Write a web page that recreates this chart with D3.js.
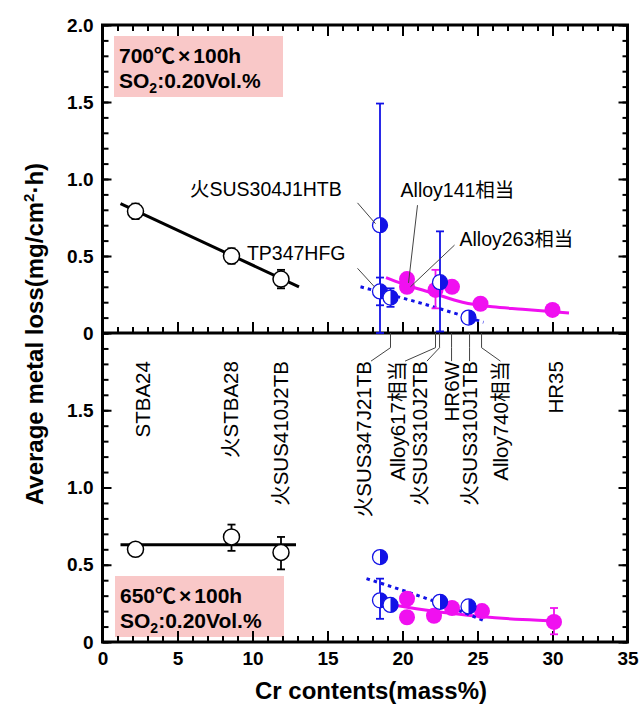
<!DOCTYPE html>
<html lang="ja">
<head>
<meta charset="UTF-8">
<title>Average metal loss vs Cr contents</title>
<script src="https://d3js.org/d3.v7.min.js"></script>
<style>
  body { margin: 0; background: #fff; }
  svg { font-family: "Liberation Sans", Arial, "Noto Sans CJK JP", sans-serif; }
  .frame { fill: none; stroke: #000; stroke-width: 3; }
  .axis line { stroke: #000; stroke-width: 2; }
  .axis text { font-family: "Liberation Sans", Arial, sans-serif; font-size: 19px; font-weight: bold; fill: #000; }
  .axis-title { font-size: 24px; font-weight: bold; }
  .note { font-size: 19.5px; }
  .grade { font-size: 20.5px; }
  .leader { stroke: #444; stroke-width: 1; fill: none; }
  .cond-box { fill: #f9c8c8; }
  .cond-text { font-size: 21px; font-weight: bold; }
</style>
</head>
<body>
<script>
// ---- data ----
// ferritic steels, open black circles
const crFerritic = [2.2, 8.6, 11.9]
const loss700Ferritic = [0.79, 0.50, 0.35]
const lo700Ferritic = [0.74, 0.45, 0.29]
const hi700Ferritic = [0.84, 0.55, 0.41]
const loss650Ferritic = [0.60, 0.68, 0.58]
const lo650Ferritic = [null, 0.59, 0.47]
const hi650Ferritic = [null, 0.76, 0.68]
const fit700FerriticCr = [1.2, 13.1], fit700FerriticLoss = [0.84, 0.30]
const fit650FerriticCr = [1.2, 12.9], fit650FerriticLoss = [0.63, 0.63]

// austenitic stainless steels, half filled blue circles
const crStainless = [18.5, 18.5, 19.2, 22.5, 24.4]
const loss700Stainless = [0.70, 0.27, 0.23, 0.33, 0.10]
const lo700Stainless = [0.00, 0.18, 0.17, 0.01, null]
const hi700Stainless = [1.49, 0.36, 0.29, 0.66, null]
const loss650Stainless = [0.55, 0.27, 0.24, 0.26, 0.23]
const lo650Stainless = [null, 0.15, null, null, null]
const hi650Stainless = [null, 0.41, null, null, null]
const fit700StainlessCr = [17.2, 21.0, 25.4], fit700StainlessLoss = [0.30, 0.20, 0.07]
const fit650StainlessCr = [17.6, 22.5, 25.4], fit650StainlessLoss = [0.41, 0.25, 0.14]

// Ni base alloys / high alloys, filled magenta circles
const crNi700 = [20.3, 20.3, 22.2, 23.3, 25.2, 30.0]
const loss700Ni = [0.35, 0.30, 0.28, 0.30, 0.19, 0.15]
const lo700Ni = [null, null, 0.16, null, null, null]
const hi700Ni = [null, null, 0.41, null, null, null]
const crNi650 = [20.3, 20.3, 22.1, 23.3, 25.3, 30.1]
const loss650Ni = [0.28, 0.16, 0.17, 0.22, 0.20, 0.13]
const lo650Ni = [null, null, null, null, null, 0.05]
const hi650Ni = [null, null, null, null, null, 0.22]
const fit700NiCr = [18.9, 20, 22, 24, 26, 28, 31.1]
const fit700NiLoss = [0.36, 0.32, 0.26, 0.20, 0.17, 0.155, 0.13]
const fit650NiCr = [19.4, 22, 25.2, 28, 30.5]
const fit650NiLoss = [0.24, 0.20, 0.165, 0.145, 0.135]

// tick values
const xMinor = d3.range(0, 36, 1)
const xMajor = d3.range(0, 36, 5)
const yMinor = d3.range(0, 21).map(i => i / 10)
const yMajorTop = [0, 0.5, 1, 1.5, 2]
const yMajorBot = [0, 0.5, 1, 1.5]

// steel grade names written in the lower panel
const gradeNames = ["STBA24", "火STBA28", "火SUS410J2TB", "火SUS347J21TB", "Alloy617相当",
                    "火SUS310J2TB", "HR6W", "火SUS310J1TB", "Alloy740相当", "HR35"]
const gradeCr = [null, null, null, 19.2, 22.2, 22.47, 23.27, 24.47, 25.27, null]
const notes700 = ["火SUS304J1HTB", "TP347HFG", "Alloy141相当", "Alloy263相当"]

// ---- layout ----
const width = 641, height = 709
const x = d3.scaleLinear().domain([0, 35]).range([102.5, 627.5])
const yTop = d3.scaleLinear().domain([0, 2]).range([333, 25])
const yBot = d3.scaleLinear().domain([0, 2]).range([642, 333])

const blue = "#1212e6", magenta = "#f010f0"

const svg = d3.select("body").append("svg")
    .attr("width", width)
    .attr("height", height)

// condition boxes (behind everything)
function condBox(bx, by, temp) {
  svg.append("rect").attr("class", "cond-box")
      .attr("x", bx).attr("y", by).attr("width", 169).attr("height", 61)
  const t1 = svg.append("text").attr("class", "cond-text").attr("x", bx + 5).attr("y", by + 27)
  t1.append("tspan").text(temp + "℃")
  t1.append("tspan").attr("dx", 3).text("×")
  t1.append("tspan").attr("dx", 3).text("100h")
  const t2 = svg.append("text").attr("class", "cond-text").attr("x", bx + 5).attr("y", by + 52)
  t2.append("tspan").text("SO")
  t2.append("tspan").attr("font-size", 14).attr("dy", 5).text("2")
  t2.append("tspan").attr("dy", -5).text(":0.20Vol.%")
}
condBox(114, 36, 700)
condBox(115, 576, 650)

// axes
function addAxis(axis, tx, ty) {
  const g = svg.append("g").attr("class", "axis")
      .attr("transform", `translate(${tx},${ty})`)
      .call(axis)
  g.select(".domain").remove()
  return g
}
const fmtY = d => d === 0 ? "0" : d3.format(".1f")(d)

// horizontal axes: top edge, middle line, bottom line
addAxis(d3.axisTop(x).tickValues(xMinor).tickSize(-6).tickFormat(""), 0, yTop(2))
addAxis(d3.axisTop(x).tickValues(xMajor).tickSize(-11).tickFormat(""), 0, yTop(2))
addAxis(d3.axisBottom(x).tickValues(xMinor).tickSize(-6).tickFormat(""), 0, yTop(0))
addAxis(d3.axisBottom(x).tickValues(xMajor).tickSize(-11).tickFormat(""), 0, yTop(0))
addAxis(d3.axisBottom(x).tickValues(xMinor).tickSize(-6).tickFormat(""), 0, yBot(0))
addAxis(d3.axisBottom(x).tickValues(xMajor).tickSize(-11).tickPadding(10).tickFormat(d3.format("d")), 0, yBot(0))

// vertical axes
for (const ys of [yTop, yBot]) {
  addAxis(d3.axisLeft(ys).tickValues(yMinor).tickSize(-6).tickFormat(""), x(0), 0)
  addAxis(d3.axisRight(ys).tickValues(yMinor).tickSize(-5).tickFormat(""), x(35), 0)
  addAxis(d3.axisRight(ys).tickValues(yMajorTop).tickSize(-9).tickFormat(""), x(35), 0)
}
addAxis(d3.axisLeft(yTop).tickValues(yMajorTop).tickSize(-9).tickPadding(9).tickFormat(fmtY), x(0), 0)
addAxis(d3.axisLeft(yBot).tickValues(yMajorBot).tickSize(-9).tickPadding(9).tickFormat(fmtY), x(0), 0)

svg.append("rect").attr("class", "frame")
    .attr("x", x(0)).attr("y", yTop(2))
    .attr("width", x(35) - x(0)).attr("height", yBot(0) - yTop(2))
svg.append("line").attr("class", "frame")
    .attr("x1", x(0)).attr("x2", x(35)).attr("y1", yTop(0)).attr("y2", yTop(0))

// ---- marks ----
function fitLine(ys, crs, losses, color, dotted, curve) {
  svg.append("path")
      .datum(d3.zip(crs, losses))
      .attr("fill", "none")
      .attr("stroke", color)
      .attr("stroke-width", 3)
      .attr("stroke-dasharray", dotted ? "3.5,4" : null)
      .attr("d", d3.line().x(d => x(d[0])).y(d => ys(d[1])).curve(curve || d3.curveLinear))
}

function errorBars(ys, crs, lo, hi, color) {
  const rows = d3.zip(crs, lo, hi).filter(d => d[1] != null)
  const g = svg.append("g").attr("stroke", color).attr("stroke-width", 1.8)
  g.selectAll("line.v").data(rows).join("line").attr("class", "v")
      .attr("x1", d => x(d[0])).attr("x2", d => x(d[0]))
      .attr("y1", d => ys(d[1])).attr("y2", d => ys(d[2]))
  g.selectAll("line.lo").data(rows).join("line").attr("class", "lo")
      .attr("x1", d => x(d[0]) - 4).attr("x2", d => x(d[0]) + 4)
      .attr("y1", d => ys(d[1])).attr("y2", d => ys(d[1]))
  g.selectAll("line.hi").data(rows).join("line").attr("class", "hi")
      .attr("x1", d => x(d[0]) - 4).attr("x2", d => x(d[0]) + 4)
      .attr("y1", d => ys(d[2])).attr("y2", d => ys(d[2]))
}

function openCircles(ys, crs, losses) {
  svg.append("g").selectAll("circle").data(d3.zip(crs, losses)).join("circle")
      .attr("cx", d => x(d[0])).attr("cy", d => ys(d[1])).attr("r", 8)
      .attr("fill", "#fff").attr("stroke", "#000").attr("stroke-width", 1.5)
}

function filledCircles(ys, crs, losses) {
  svg.append("g").selectAll("circle").data(d3.zip(crs, losses)).join("circle")
      .attr("cx", d => x(d[0])).attr("cy", d => ys(d[1])).attr("r", 8)
      .attr("fill", magenta)
}

const halfArc = d3.arc()({innerRadius: 0, outerRadius: 7.5, startAngle: 0, endAngle: Math.PI})
function halfCircles(ys, crs, losses) {
  const g = svg.append("g").selectAll("g").data(d3.zip(crs, losses)).join("g")
      .attr("transform", d => `translate(${x(d[0])},${ys(d[1])})`)
  g.append("circle").attr("r", 7.5).attr("fill", "#fff").attr("stroke", blue).attr("stroke-width", 1.3)
  g.append("path").attr("d", halfArc).attr("fill", blue)
}

// upper panel: 700 C
fitLine(yTop, fit700FerriticCr, fit700FerriticLoss, "#000", false)
fitLine(yTop, fit700NiCr, fit700NiLoss, magenta, false, d3.curveMonotoneX)
fitLine(yTop, fit700StainlessCr, fit700StainlessLoss, blue, true, d3.curveMonotoneX)
errorBars(yTop, crFerritic, lo700Ferritic, hi700Ferritic, "#000")
errorBars(yTop, crNi700, lo700Ni, hi700Ni, magenta)
openCircles(yTop, crFerritic, loss700Ferritic)
filledCircles(yTop, crNi700, loss700Ni)
errorBars(yTop, crStainless, lo700Stainless, hi700Stainless, blue)
halfCircles(yTop, crStainless, loss700Stainless)

// lower panel: 650 C
fitLine(yBot, fit650FerriticCr, fit650FerriticLoss, "#000", false)
fitLine(yBot, fit650NiCr, fit650NiLoss, magenta, false, d3.curveMonotoneX)
fitLine(yBot, fit650StainlessCr, fit650StainlessLoss, blue, true, d3.curveMonotoneX)
errorBars(yBot, crFerritic, lo650Ferritic, hi650Ferritic, "#000")
errorBars(yBot, crNi650, lo650Ni, hi650Ni, magenta)
openCircles(yBot, crFerritic, loss650Ferritic)
filledCircles(yBot, crNi650, loss650Ni)
errorBars(yBot, crStainless, lo650Stainless, hi650Stainless, blue)
halfCircles(yBot, crStainless, loss650Stainless)

// ---- annotations ----
// upper panel callouts: text anchor [cr, loss], anchor side, leader from/to
const noteLayout = [
  {at: [15.95, 0.89], anchor: "end",   from: [17.0, 0.845], to: [18.2, 0.71]},
  {at: [16.2, 0.474], anchor: "end",   from: [17.0, 0.42],  to: [18.13, 0.30]},
  {at: [19.87, 0.883], anchor: "start", from: [21.0, 0.83],  to: [20.4, 0.325]},
  {at: [23.8, 0.565], anchor: "start", from: [23.47, 0.571], to: [20.53, 0.30]}
]
notes700.forEach((t, i) => {
  const L = noteLayout[i]
  svg.append("line").attr("class", "leader")
      .attr("x1", x(L.from[0])).attr("y1", yTop(L.from[1]))
      .attr("x2", x(L.to[0])).attr("y2", yTop(L.to[1]))
  svg.append("text").attr("class", "note")
      .attr("x", x(L.at[0])).attr("y", yTop(L.at[1]))
      .attr("text-anchor", L.anchor)
      .text(t)
})

// lower panel: rotated grade names, with leaders to the axis
const gradeLabelCr = [2.67, 8.53, 11.87, 17.4, 19.67, 21.13, 23.27, 24.47, 26.53, 30.2]
const labelTop = 1.818, bendAt = 1.905
gradeNames.forEach((name, i) => {
  const lx = gradeLabelCr[i]
  if (gradeCr[i] != null) {
    const c = gradeCr[i]
    const pts = [[c, 2.0], [c, bendAt], [lx + (c > lx + 0.5 ? 0.5 : 0), labelTop]]
    svg.append("path").attr("class", "leader")
        .attr("d", d3.line().x(d => x(d[0])).y(d => yBot(d[1]))(pts))
  }
  svg.append("text").attr("class", "grade")
      .attr("transform", `translate(${x(lx)},${yBot(labelTop)}) rotate(-90)`)
      .attr("text-anchor", "end")
      .attr("dy", "0.35em")
      .text(name)
})

// axis titles
const yt = svg.append("text").attr("class", "axis-title")
    .attr("transform", `translate(43,334) rotate(-90)`)
    .attr("text-anchor", "middle")
yt.append("tspan").text("Average metal loss(mg/cm")
yt.append("tspan").attr("font-size", 15).attr("dy", -9).text("2")
yt.append("tspan").attr("dy", 9).text("·h)")

svg.append("text").attr("class", "axis-title")
    .attr("x", x(17.9)).attr("y", 699)
    .attr("text-anchor", "middle")
    .text("Cr contents(mass%)")
</script>
</body>
</html>
